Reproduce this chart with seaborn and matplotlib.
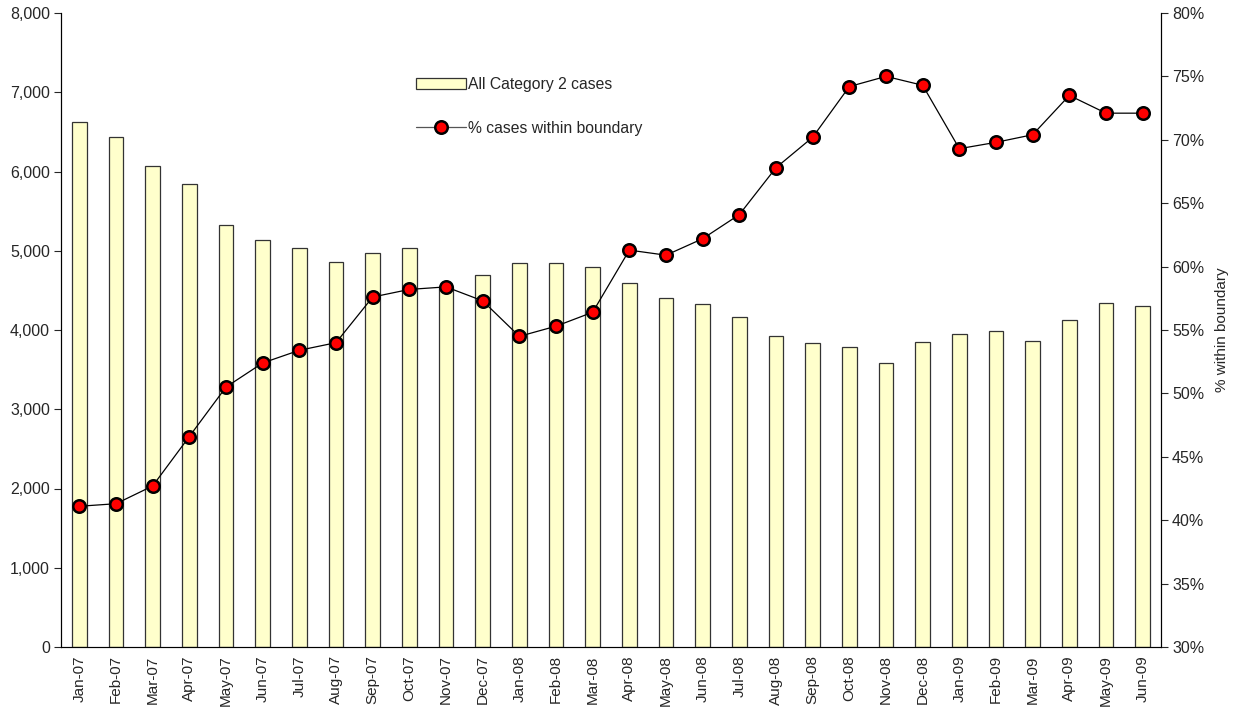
import numpy as np
import matplotlib
matplotlib.use("Agg")
import matplotlib.pyplot as plt
import matplotlib.ticker as mticker
from matplotlib.patches import Patch
from matplotlib.lines import Line2D
import seaborn as sns

MONTHS = ["Jan-07", "Feb-07", "Mar-07", "Apr-07", "May-07", "Jun-07", "Jul-07",
          "Aug-07", "Sep-07", "Oct-07", "Nov-07", "Dec-07", "Jan-08", "Feb-08",
          "Mar-08", "Apr-08", "May-08", "Jun-08", "Jul-08", "Aug-08", "Sep-08",
          "Oct-08", "Nov-08", "Dec-08", "Jan-09", "Feb-09", "Mar-09", "Apr-09",
          "May-09", "Jun-09"]

# all category 2 cases (left axis)
CASES = [6620, 6440, 6070, 5840, 5330, 5130, 5040, 4860, 4970, 5030,
         4540, 4700, 4840, 4850, 4790, 4590, 4410, 4330, 4170, 3920,
         3830, 3780, 3580, 3850, 3945, 3990, 3865, 4130, 4345, 4300]

# % cases within boundary (right axis)
PCT_WITHIN = [41.1, 41.3, 42.7, 46.6, 50.5, 52.4, 53.4, 54.0, 57.6, 58.2,
              58.4, 57.3, 54.5, 55.3, 56.4, 61.3, 60.9, 62.2, 64.1, 67.8,
              70.2, 74.2, 75.0, 74.3, 69.3, 69.8, 70.4, 73.5, 72.1, 72.1]

BAR_LABEL = "All Category 2 cases"
LINE_LABEL = "% cases within boundary"

sns.set_style("white")
plt.rcParams["font.family"] = ["Liberation Sans", "DejaVu Sans"]
plt.rcParams["font.size"] = 11

fig = plt.figure(figsize=(12.36, 7.14), dpi=100)
ax = fig.add_axes([61 / 1236, 1 - 647 / 714, 1100 / 1236, 634 / 714])

sns.barplot(x=MONTHS, y=CASES, ax=ax, color="#FFFFCC", saturation=1,
            edgecolor="#333333", linewidth=0.9, width=0.4)
ax.set_ylim(0, 8000)
ax.set_xlim(-0.5, len(MONTHS) - 0.5)
ax.yaxis.set_major_locator(mticker.MultipleLocator(1000))
ax.yaxis.set_major_formatter(mticker.FuncFormatter(lambda v, p: f"{int(v):,}"))

ax2 = ax.twinx()
sns.pointplot(x=MONTHS, y=PCT_WITHIN, ax=ax2, color="black", errorbar=None,
              markers="o", linestyles="-", linewidth=0.9, markersize=9,
              markeredgewidth=1.8, markerfacecolor="red", markeredgecolor="black")
for ln in ax2.lines:
    ln.set_markerfacecolor("red")
    ln.set_markeredgecolor("black")
ax2.set_ylim(30, 80)
ax2.set_xlim(-0.5, len(MONTHS) - 0.5)
ax2.yaxis.set_major_locator(mticker.MultipleLocator(5))
ax2.yaxis.set_major_formatter(mticker.FuncFormatter(lambda v, p: f"{int(round(v))}%"))
ax2.set_ylabel("% within boundary", fontsize=11, labelpad=8)

# x ticks: labels centred on bars, tick marks on category boundaries
ax.set_xticks(np.arange(len(MONTHS)))
ax.set_xticklabels(MONTHS, rotation=90, fontsize=11)
ax.set_xticks(np.arange(-0.5, len(MONTHS), 1), minor=True)
ax.tick_params(axis="x", which="major", length=0, pad=6)
ax.tick_params(axis="x", which="minor", length=5, width=0.8, color="#444444", direction="out")
ax.tick_params(axis="y", length=5, width=0.8, direction="out", left=True, labelsize=11.5, pad=3)
ax2.tick_params(axis="y", length=5, width=0.8, direction="out", right=True, labelsize=11.5, pad=3)
ax.set_xlabel("")
ax.set_ylabel("")
ax2.set_xlabel("")

for a in (ax, ax2):
    a.spines["top"].set_visible(False)
    for s in ("left", "right", "bottom"):
        a.spines[s].set_color("black")
        a.spines[s].set_linewidth(0.8)
ax.spines["bottom"].set_color("#555555")

handles = [
    Patch(facecolor="#FFFFCC", edgecolor="#333333", linewidth=0.9),
    Line2D([], [], color="#555555", linewidth=0.9, marker="o", markersize=9,
           markerfacecolor="red", markeredgecolor="black", markeredgewidth=1.8),
]
ax2.legend(handles, [BAR_LABEL, LINE_LABEL], loc="upper left",
           bbox_to_anchor=(0.3155, 0.912), frameon=False, fontsize=11.3,
           handlelength=3.2, handleheight=0.7, handletextpad=0.1,
           labelspacing=1.85, borderpad=0)

fig.savefig("out.png", dpi=100)
